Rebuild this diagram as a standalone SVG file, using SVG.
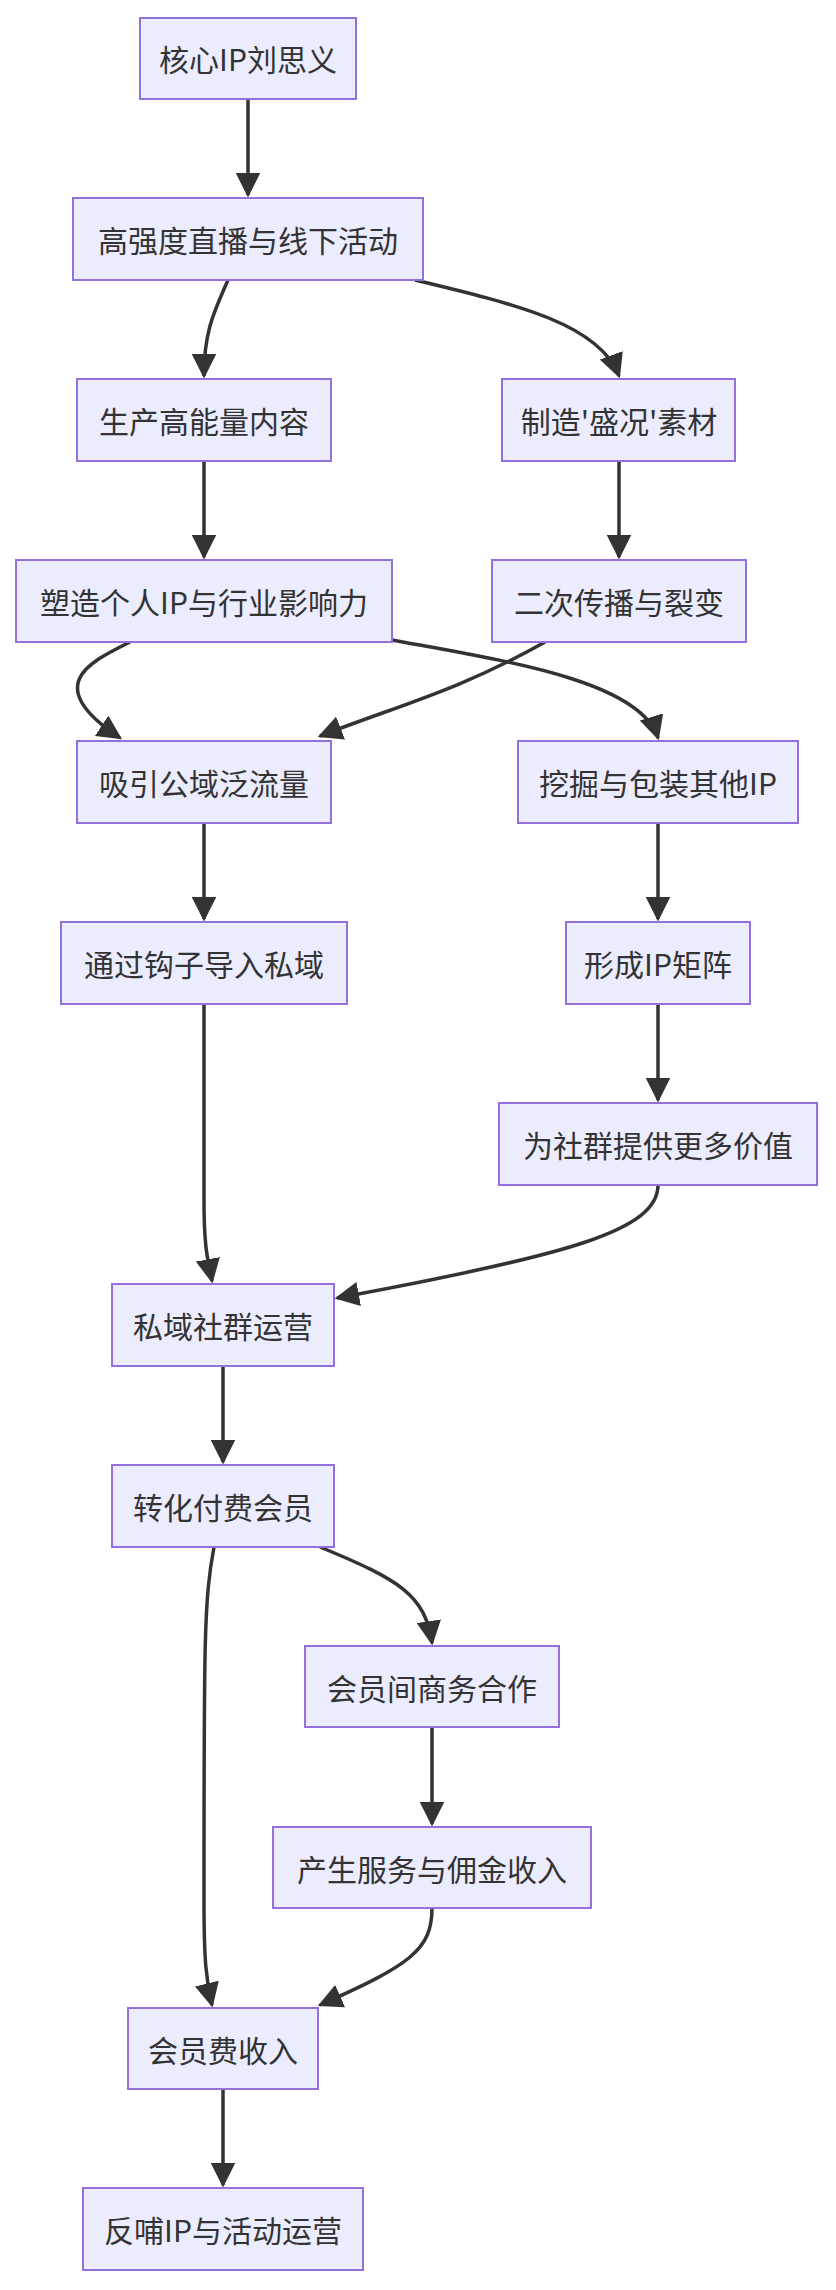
<svg xmlns="http://www.w3.org/2000/svg" width="836" height="2290" viewBox="0 0 836 2290">
<style>
.n rect{fill:#ECECFF;stroke:#9370DB;stroke-width:2}
.n text{font-family:"Noto Sans CJK SC","Liberation Sans",sans-serif;font-size:30px;fill:#333;text-anchor:middle;dominant-baseline:central}
.e path{fill:none;stroke:#333;stroke-width:3.5}
</style>
<defs><marker id="a" viewBox="0 0 10 10" refX="9" refY="5" markerWidth="7" markerHeight="7" markerUnits="strokeWidth" orient="auto"><path d="M0,0L10,5L0,10z" fill="#333"/></marker></defs>
<rect width="836" height="2290" fill="#fff"/>
<g class="e">
<path d="M248,99V195" marker-end="url(#a)"/>
<path d="M228,280C215,310 204,330 204,376" marker-end="url(#a)"/>
<path d="M415,280C520,305 600,325 619,376" marker-end="url(#a)"/>
<path d="M204,461V557" marker-end="url(#a)"/>
<path d="M619,461V557" marker-end="url(#a)"/>
<path d="M130,642C90,662 40,685 120,738" marker-end="url(#a)"/>
<path d="M392,640C500,660 640,680 658,738" marker-end="url(#a)"/>
<path d="M545,642C460,690 400,705 320,736" marker-end="url(#a)"/>
<path d="M204,823V919" marker-end="url(#a)"/>
<path d="M658,823V919" marker-end="url(#a)"/>
<path d="M658,1004V1100" marker-end="url(#a)"/>
<path d="M204,1004V1200C204,1250 208,1260 212,1281" marker-end="url(#a)"/>
<path d="M658,1185C658,1230 570,1255 337,1298" marker-end="url(#a)"/>
<path d="M223,1366V1462" marker-end="url(#a)"/>
<path d="M320,1547C400,1580 425,1595 432,1643" marker-end="url(#a)"/>
<path d="M432,1727V1824" marker-end="url(#a)"/>
<path d="M214,1547C204,1600 204,1640 204,1900C204,1960 206,1980 212,2005" marker-end="url(#a)"/>
<path d="M432,1908C432,1950 410,1965 320,2005" marker-end="url(#a)"/>
<path d="M223,2089V2185" marker-end="url(#a)"/>
</g>
<g id="n1" class="n"><rect x="140" y="18" width="216" height="81"/><text x="248" y="58">核心IP刘思义</text></g>
<g id="n2" class="n"><rect x="73" y="198" width="350" height="82"/><text x="248" y="239">高强度直播与线下活动</text></g>
<g id="n3" class="n"><rect x="77" y="379" width="254" height="82"/><text x="204" y="420">生产高能量内容</text></g>
<g id="n4" class="n"><rect x="502" y="379" width="233" height="82"/><text x="619" y="420">制造'盛况'素材</text></g>
<g id="n5" class="n"><rect x="16" y="560" width="376" height="82"/><text x="204" y="601">塑造个人IP与行业影响力</text></g>
<g id="n6" class="n"><rect x="492" y="560" width="254" height="82"/><text x="619" y="601">二次传播与裂变</text></g>
<g id="n7" class="n"><rect x="77" y="741" width="254" height="82"/><text x="204" y="782">吸引公域泛流量</text></g>
<g id="n8" class="n"><rect x="518" y="741" width="280" height="82"/><text x="658" y="782">挖掘与包装其他IP</text></g>
<g id="n9" class="n"><rect x="61" y="922" width="286" height="82"/><text x="204" y="963">通过钩子导入私域</text></g>
<g id="n10" class="n"><rect x="566" y="922" width="184" height="82"/><text x="658" y="963">形成IP矩阵</text></g>
<g id="n11" class="n"><rect x="499" y="1103" width="318" height="82"/><text x="658" y="1144">为社群提供更多价值</text></g>
<g id="n12" class="n"><rect x="112" y="1284" width="222" height="82"/><text x="223" y="1325">私域社群运营</text></g>
<g id="n13" class="n"><rect x="112" y="1465" width="222" height="82"/><text x="223" y="1506">转化付费会员</text></g>
<g id="n14" class="n"><rect x="305" y="1646" width="254" height="81"/><text x="432" y="1687">会员间商务合作</text></g>
<g id="n15" class="n"><rect x="273" y="1827" width="318" height="81"/><text x="432" y="1868">产生服务与佣金收入</text></g>
<g id="n16" class="n"><rect x="128" y="2008" width="190" height="81"/><text x="223" y="2049">会员费收入</text></g>
<g id="n17" class="n"><rect x="83" y="2188" width="280" height="82"/><text x="223" y="2229">反哺IP与活动运营</text></g>
</svg>
